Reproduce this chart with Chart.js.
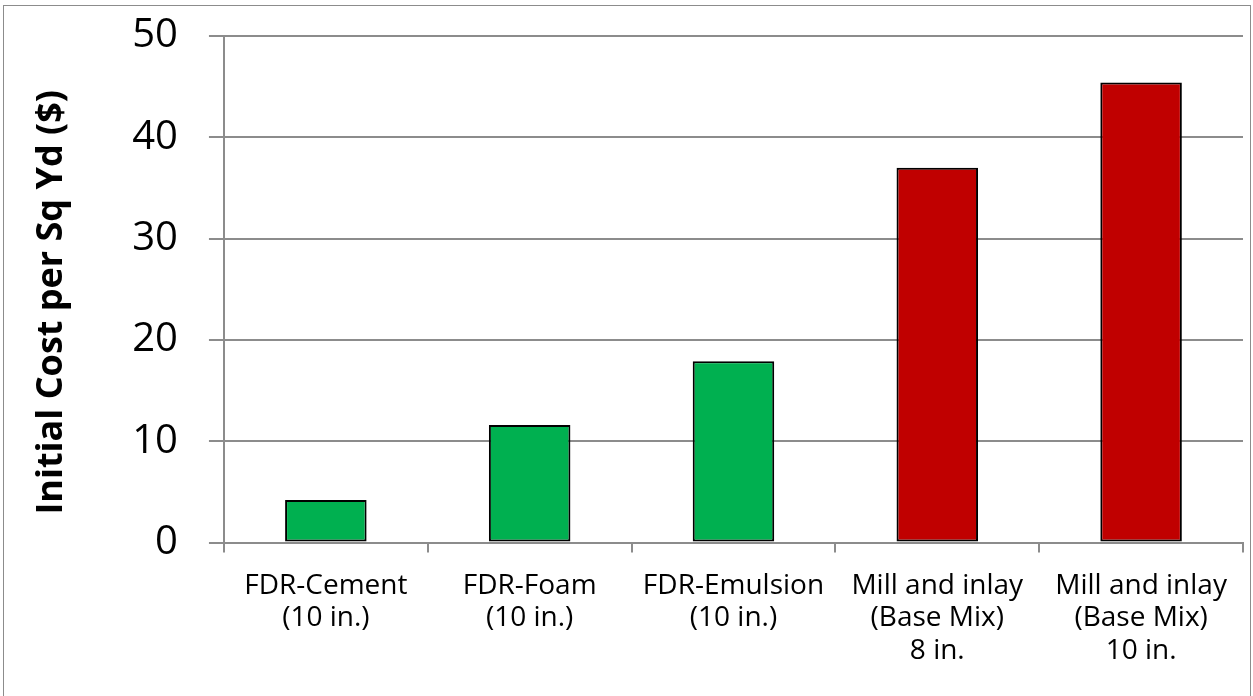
<!DOCTYPE html>
<html>
<head>
<meta charset="utf-8">
<script src="https://cdn.jsdelivr.net/npm/chart.js@4.4.1/dist/chart.umd.min.js"></script>
<style>
  html, body { margin: 0; padding: 0; background: #fff; overflow: hidden; }
  #wrap { position: relative; width: 1253px; height: 696px; }
  #frame {
    position: absolute; left: 3px; top: 5px; width: 1246px; height: 760px;
    border: 1.5px solid #8c8c8c; pointer-events: none;
  }
</style>
</head>
<body>
<div id="wrap">
  <canvas id="chart" width="1253" height="696"></canvas>
  <div id="frame"></div>
</div>
<script>
// categories (multi-line labels, as in the original)
const categories = [
  ['FDR-Cement', '(10 in.)'],
  ['FDR-Foam', '(10 in.)'],
  ['FDR-Emulsion', '(10 in.)'],
  ['Mill and inlay', '(Base Mix)', '8 in.'],
  ['Mill and inlay', '(Base Mix)', '10 in.']
];
// initial cost per square yard ($)
const costValues = [4.2, 11.6, 17.9, 37.0, 45.4];
const barColors = ['#00b050', '#00b050', '#00b050', '#c00000', '#c00000'];
const yTicks = [0, 10, 20, 30, 40, 50];
const yTitle = 'Initial Cost per Sq Yd ($)';

const gridGray = '#8c8c8c';
const fontFamily = '"Open Sans", "Liberation Sans", sans-serif';
const titleSize = 36;

// the axis title sits a bit below the middle of the axis in the original,
// so the scale only reserves its space and this draws it
const yTitlePlugin = {
  id: 'yTitleShift',
  afterDraw(chart) {
    const s = chart.scales.y;
    const c = chart.ctx;
    c.save();
    c.font = 'bold ' + titleSize + 'px ' + fontFamily;
    c.fillStyle = '#000';
    c.textAlign = 'center';
    c.textBaseline = 'middle';
    c.translate(s.left + titleSize * 0.6, (s.top + s.bottom) / 2 + 13);
    c.rotate(-Math.PI / 2);
    c.fillText(yTitle, 0, 0);
    c.restore();
  }
};

const ctx = document.getElementById('chart').getContext('2d');
const chart = new Chart(ctx, {
  type: 'bar',
  data: {
    labels: categories,
    datasets: [{
      data: costValues,
      backgroundColor: barColors,
      borderColor: '#000',
      borderWidth: 2,
      borderSkipped: false,
      barPercentage: 0.4,
      categoryPercentage: 1.0
    }]
  },
  options: {
    responsive: false,
    animation: false,
    layout: { padding: { top: 36, right: 10, bottom: 12, left: 30 } },
    plugins: {
      legend: { display: false },
      tooltip: { enabled: false }
    },
    scales: {
      x: {
        offset: true,
        grid: {
          display: true,
          offset: true,
          drawOnChartArea: false,
          color: gridGray,
          lineWidth: 2,
          tickLength: 10
        },
        border: { display: true, color: gridGray, width: 2 },
        ticks: {
          color: '#000',
          padding: 17,
          maxRotation: 0,
          autoSkip: false,
          font: { family: fontFamily, size: 28, lineHeight: 1.16 }
        }
      },
      y: {
        min: 0,
        max: 50,
        afterBuildTicks: (axis) => { axis.ticks = yTicks.map(v => ({ value: v })); },
        // tick padding is only meant to push labels left, not down from the top
        afterFit: (scale) => { scale.paddingTop = 0; scale.paddingBottom = 0; },
        grid: {
          color: gridGray,
          lineWidth: 2,
          tickLength: 15
        },
        border: { display: true, color: gridGray, width: 2 },
        ticks: {
          color: '#000',
          padding: 31,
          font: { family: fontFamily, size: 40 }
        },
        title: {
          display: true,
          text: yTitle,
          color: 'rgba(0,0,0,0)',
          padding: { top: 0, bottom: 28 },
          font: { family: fontFamily, size: titleSize, weight: 'bold' }
        }
      }
    }
  },
  plugins: [yTitlePlugin]
});
</script>
</body>
</html>
